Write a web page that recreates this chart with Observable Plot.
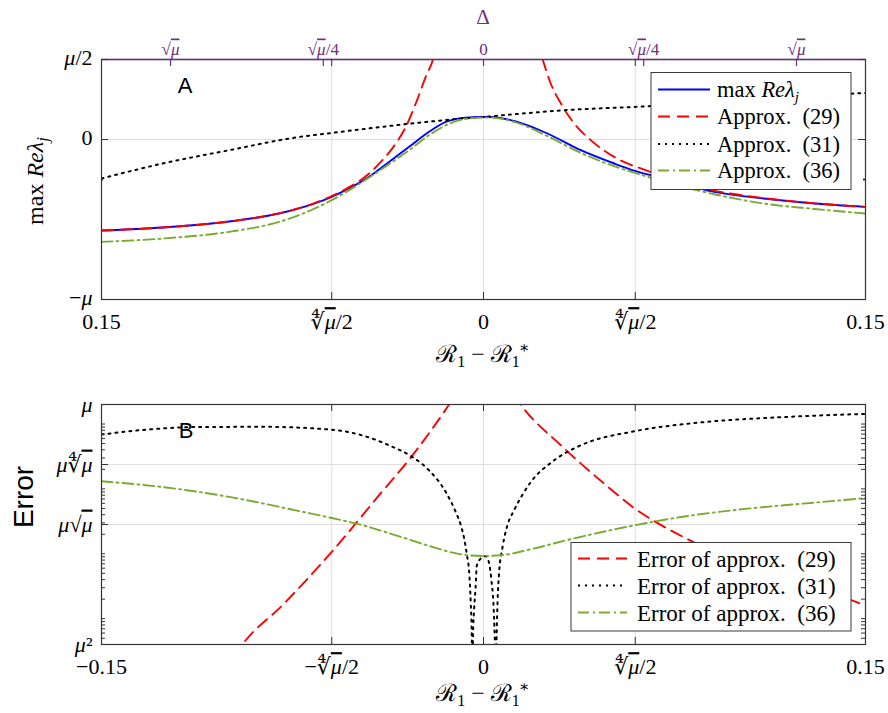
<!DOCTYPE html>
<html><head><meta charset="utf-8">
<script src="https://cdn.jsdelivr.net/npm/d3@7"></script>
<script src="https://cdn.jsdelivr.net/npm/@observablehq/plot@0.6"></script>
<style>
body{margin:0;background:#fff;}
#wrap{position:relative;width:888px;height:713px;overflow:hidden;background:#fff;}
#wrap svg{position:absolute;left:0;}
</style></head><body><div id="wrap"></div>
<script>
const mu = 2e-4;

// ---------- Panel A: max Re(lambda_j) and approximations (values in units of mu) ----------
const blueX = [-0.15,-0.126,-0.0999,-0.0803,-0.0671,-0.0596,-0.0528,-0.0449,-0.0371,-0.0292,-0.0214,-0.0148,-0.0083,0,0.0029,0.012,0.0251,0.0382,0.0513,0.0595,0.067,0.0906,0.110,0.130,0.150];
const blueY = [-0.569,-0.55,-0.5125,-0.4625,-0.404,-0.358,-0.306,-0.233,-0.14,-0.046,0.048,0.11,0.135,0.141,0.141,0.116,0.0375,-0.067,-0.15,-0.196,-0.229,-0.327,-0.369,-0.40,-0.421];
const red29LX = [-0.15,-0.126,-0.0999,-0.0803,-0.0671,-0.0596,-0.0528,-0.0475,-0.0449,-0.0397,-0.0344,-0.0305,-0.0266,-0.0227,-0.0198,-0.018];
const red29LY = [-0.569,-0.55,-0.5125,-0.462,-0.402,-0.354,-0.298,-0.245,-0.2125,-0.129,-0.025,0.079,0.225,0.391,0.502,0.62];
const red29RX = [0.021,0.0232,0.0264,0.0304,0.0356,0.0421,0.0513,0.0644,0.075,0.09,0.11,0.13,0.15];
const red29RY = [0.62,0.502,0.35,0.225,0.10,-0.004,-0.109,-0.196,-0.255,-0.318,-0.366,-0.399,-0.421];
const black31X = [-0.15,-0.126,-0.0999,-0.0737,-0.0596,-0.0344,-0.0083,0,0.012,0.0317,0.0644,0.09,0.12,0.15];
const black31Y = [-0.244,-0.15,-0.067,0.0125,0.041,0.089,0.131,0.141,0.158,0.183,0.208,0.235,0.265,0.291];
const green36X = [-0.15,-0.126,-0.0999,-0.0803,-0.0671,-0.0596,-0.0475,-0.0371,-0.0292,-0.0214,-0.0083,0,0.0029,0.012,0.0251,0.0382,0.0513,0.0595,0.0906,0.110,0.130,0.150];
const green36Y = [-0.64,-0.619,-0.577,-0.515,-0.4375,-0.379,-0.265,-0.154,-0.067,0.027,0.125,0.137,0.137,0.11,0.021,-0.084,-0.167,-0.209,-0.342,-0.40,-0.434,-0.463];

// ---------- Panel B: errors, given as exponent e (error = mu^e) ----------
const err29LX = [-0.098,-0.0946,-0.0789,-0.0596,-0.041,-0.0279,-0.0135,-0.011];
const err29LE = [2.05,1.999,1.836,1.614,1.378,1.212,1.0,0.96];
const err29RX = [0.012,0.0146,0.0304,0.0474,0.0595,0.0722,0.0801,0.10,0.125,0.1462,0.150];
const err29RE = [0.96,1.0,1.170,1.330,1.434,1.517,1.561,1.66,1.755,1.822,1.839];
const err31X = [-0.15,-0.1327,-0.113,-0.0868,-0.0596,-0.0475,-0.0371,-0.0279,-0.0214,-0.0148,-0.0109,-0.0089,-0.0076,-0.0066,-0.0056,-0.005,-0.0046,-0.0044,-0.0041,-0.0037,-0.0031,-0.0026,-0.0011,0,0.0009,0.0022,0.0031,0.0039,0.0044,0.0048,0.0051,0.0055,0.0061,0.0075,0.0094,0.012,0.0186,0.0277,0.0382,0.0595,0.084,0.1167,0.150];
const err31E = [1.125,1.105,1.094,1.093,1.105,1.129,1.170,1.219,1.274,1.365,1.448,1.503,1.558,1.621,1.704,1.829,1.968,2.15,1.953,1.857,1.760,1.669,1.642,1.632,1.632,1.660,1.732,1.829,1.968,2.15,1.99,1.829,1.704,1.593,1.503,1.441,1.323,1.233,1.170,1.111,1.076,1.053,1.039];
const err36X = [-0.15,-0.126,-0.0999,-0.0737,-0.0596,-0.0475,-0.0344,-0.0214,-0.0083,0,0.0068,0.0186,0.0343,0.0595,0.0775,0.1037,0.1298,0.150];
const err36E = [1.320,1.344,1.385,1.441,1.473,1.503,1.545,1.589,1.625,1.631,1.628,1.603,1.561,1.503,1.469,1.434,1.409,1.390];

// ---------- ticks & labels ----------
const xTicks = [-0.15,-0.0596,0,0.0596,0.15];
const xLabelsA = ["0.15","∜μ/2","0","∜μ/2","0.15"];
const xLabelsB = ["−0.15","−∜μ/2","0","∜μ/2","0.15"];
const deltaTicks = [-0.1229,-0.0629,0,0.0629,0.1229];
const deltaLabels = ["√μ","√μ/4","0","√μ/4","√μ"];
const yTicksA = [-1,0,0.5];
const yLabelsA = ["−μ","0","μ/2"];
const yExpB = [1,1.25,1.5,2];
const yLabelsB = ["μ","μ∜μ","μ√μ","μ²"];
const legendA = ["max Reλj","Approx. (29)","Approx. (31)","Approx. (36)"];
const legendB = ["Error of approx. (29)","Error of approx. (31)","Error of approx. (36)"];

// ---------- styles ----------
const SERIF = "'Liberation Serif','DejaVu Serif',serif";
const SANS = "'Liberation Sans',Arial,sans-serif";
const PURPLE = "#6e2e82";
const FRAME = "#333333";
const GRID = "#dedede";
const S = {
  blue: {stroke:"#0000ff", strokeWidth:1.9},
  red: {stroke:"#ff0000", strokeWidth:1.9, strokeDasharray:"12,7"},
  black: {stroke:"#000000", strokeWidth:2, strokeDasharray:"2,5"},
  green: {stroke:"#77ac30", strokeWidth:1.9, strokeDasharray:"11,4,2,4"}
};

const rows = (xs, ys) => xs.map((x,i) => ({x, y: ys[i]}));
const rowsE = (xs, es) => xs.map((x,i) => ({x, y: Math.pow(mu, es[i])}));
const lineOpts = (s) => ({x:"x", y:"y", curve:"monotone-x", clip:true, ...s});

const W = 888, ML = 101, MR = 23;
const FW = W - ML - MR; // 764
const TICKFS = 22;

// ---------- Panel A ----------
const plotA = Plot.plot({
  width: W, height: 370, marginLeft: ML, marginRight: MR, marginTop: 59, marginBottom: 71,
  x: {domain:[-0.15,0.15], axis:null},
  y: {domain:[-1,0.5], axis:null},
  style: {fontFamily: SERIF, background:"transparent", overflow:"visible"},
  marks: [
    Plot.gridX(xTicks.slice(1,4), {stroke:GRID, strokeOpacity:1}),
    Plot.gridY([0], {stroke:GRID, strokeOpacity:1}),
    Plot.line(rows(blueX, blueY), lineOpts(S.blue)),
    Plot.line(rows(red29LX, red29LY), lineOpts(S.red)),
    Plot.line(rows(red29RX, red29RY), lineOpts(S.red)),
    Plot.line(rows(black31X, black31Y), lineOpts(S.black)),
    Plot.line(rows(green36X, green36Y), lineOpts(S.green)),
    Plot.frame({stroke:FRAME, strokeWidth:1.2}),
    Plot.ruleY([0.5], {stroke:PURPLE, strokeWidth:1.4}),
    // inward ticks (MATLAB box style)
    Plot.tickX(xTicks, {x:d=>d, insetTop:233, stroke:FRAME}),
    Plot.tickX(xTicks, {x:d=>d, insetBottom:233, stroke:FRAME}),
    Plot.tickX(deltaTicks, {x:d=>d, insetBottom:233, stroke:PURPLE, strokeWidth:1.2}),
    Plot.tickY(yTicksA, {y:d=>d, insetRight:FW-7, stroke:FRAME}),
    Plot.tickY(yTicksA, {y:d=>d, insetLeft:FW-7, stroke:FRAME}),
    Plot.tickY([-0.25], {y:d=>d, insetRight:FW-2, stroke:FRAME, strokeWidth:2}),
    Plot.tickY([-0.25], {y:d=>d, insetLeft:FW-2, stroke:FRAME, strokeWidth:2}),
    Plot.text(xTicks.map((v,i)=>({v, t:xLabelsA[i]})), {x:"v", text:"t", frameAnchor:"bottom", dy:14, lineAnchor:"top", fontSize:TICKFS}),
    Plot.text(deltaTicks.map((v,i)=>({v, t:deltaLabels[i]})), {x:"v", text:"t", frameAnchor:"top", dy:-5, lineAnchor:"bottom", fontSize:17, fill:PURPLE}),
    Plot.text(yTicksA.map((v,i)=>({v, t:yLabelsA[i]})), {y:"v", text:"t", frameAnchor:"left", dx:-9, dy:-2, textAnchor:"end", fontSize:TICKFS})
  ]
});

// ---------- Panel B ----------
const minorB = [];
for (let p = -8; p <= -4; p++) for (let k = 1; k <= 9; k++) { const v = k*Math.pow(10,p); if (v >= mu*mu && v <= mu) minorB.push(v); }
const yTicksB = yExpB.map(e => Math.pow(mu, e));
const plotB = Plot.plot({
  width: W, height: 343, marginLeft: ML, marginRight: MR, marginTop: 34, marginBottom: 69,
  x: {domain:[-0.15,0.15], axis:null},
  y: {type:"log", domain:[mu*mu, mu], axis:null},
  style: {fontFamily: SERIF, background:"transparent", overflow:"visible"},
  marks: [
    Plot.gridX(xTicks.slice(1,4), {stroke:GRID, strokeOpacity:1}),
    Plot.gridY(yTicksB.slice(1,3), {stroke:GRID, strokeOpacity:1}),
    Plot.line(rowsE(err29LX, err29LE), lineOpts(S.red)),
    Plot.line(rowsE(err29RX, err29RE), lineOpts(S.red)),
    Plot.line(rowsE(err31X, err31E), lineOpts(S.black)),
    Plot.line(rowsE(err36X, err36E), lineOpts(S.green)),
    Plot.frame({stroke:FRAME, strokeWidth:1.2}),
    Plot.tickX(xTicks, {x:d=>d, insetTop:233, stroke:FRAME}),
    Plot.tickX(xTicks, {x:d=>d, insetBottom:233, stroke:FRAME}),
    Plot.tickY(yTicksB, {y:d=>d, insetRight:FW-7, stroke:FRAME}),
    Plot.tickY(yTicksB, {y:d=>d, insetLeft:FW-7, stroke:FRAME}),
    Plot.tickY(minorB, {y:d=>d, insetRight:FW-4, stroke:FRAME}),
    Plot.tickY(minorB, {y:d=>d, insetLeft:FW-4, stroke:FRAME}),
    Plot.text(xTicks.map((v,i)=>({v, t:xLabelsB[i]})), {x:"v", text:"t", frameAnchor:"bottom", dy:14, lineAnchor:"top", fontSize:TICKFS}),
    Plot.text(yTicksB.map((v,i)=>({v, t:yLabelsB[i]})), {y:"v", text:"t", frameAnchor:"left", dx:-9, textAnchor:"end", fontSize:TICKFS})
  ]
});

const wrap = document.getElementById("wrap");
plotA.style.top = "0px"; plotB.style.top = "370px";
wrap.appendChild(plotA); wrap.appendChild(plotB);

// italic mu + radical vinculum in tick labels
function mathify(svg) {
  d3.select(svg).selectAll('text').each(function() {
    if (this.querySelector("tspan")) return;
    const t = this.textContent;
    if (!/[μ√∜]/.test(t)) return;
    const el = d3.select(this); el.text(null);
    for (let i = 0; i < t.length; i++) {
      const c = t[i];
      const ts = el.append("tspan").text(c);
      if (c === "μ") {
        ts.attr("font-style","italic");
        if (i > 0 && (t[i-1] === "√" || t[i-1] === "∜")) ts.style("text-decoration","overline");
      }
    }
  });
}
mathify(plotA); mathify(plotB);

function txt(svg, x, y, opts) {
  return d3.select(svg).append("text").attr("x", x).attr("y", y)
    .attr("font-family", opts.family || SERIF).attr("font-size", opts.size || 21)
    .attr("text-anchor", opts.anchor || "middle").attr("fill", opts.fill || "#000");
}
function xLabel(svg, y) {
  const t = txt(svg, 483, y, {size:24});
  t.append("tspan").text("ℛ");
  t.append("tspan").attr("font-size",16).attr("dy",5).text("1");
  t.append("tspan").attr("dy",-5).text(" − ℛ");
  t.append("tspan").attr("font-size",16).attr("dy",5).text("1");
  t.append("tspan").attr("font-size",16).attr("dy",-14).attr("dx",-1).text("∗");
}

// Panel A decorations
txt(plotA, 483, 24, {size:21, fill:PURPLE}).text("Δ");
xLabel(plotA, 362);
{
  const t = d3.select(plotA).append("text").attr("transform","translate(43,181) rotate(-90)")
    .attr("font-family",SERIF).attr("font-size",24).attr("text-anchor","middle");
  t.append("tspan").text("max ");
  t.append("tspan").attr("font-style","italic").text("Reλ");
  t.append("tspan").attr("font-style","italic").attr("font-size",17).attr("dy",5).text("j");
}
txt(plotA, 185, 93, {family:SANS, size:22}).text("A");

function legend(svg, box, rowYs, lx1, lx2, tx, labels, styles, fs) {
  const g = d3.select(svg).append("g");
  g.append("rect").attr("x",box[0]).attr("y",box[1]).attr("width",box[2]).attr("height",box[3])
    .attr("fill","#fff").attr("stroke","#3a3a3a").attr("stroke-width",1);
  labels.forEach((l, i) => {
    const s = styles[i];
    g.append("line").attr("x1",lx1).attr("x2",lx2).attr("y1",rowYs[i]).attr("y2",rowYs[i])
      .attr("stroke",s.stroke).attr("stroke-width",s.strokeWidth).attr("stroke-dasharray",s.strokeDasharray||null);
    const t = g.append("text").attr("x",tx).attr("y",rowYs[i]).attr("dy","0.35em")
      .attr("text-anchor","start").attr("font-family",SERIF).attr("font-size",fs);
    if (l === "max Reλj") {
      t.append("tspan").text("max ");
      t.append("tspan").attr("font-style","italic").text("Reλ");
      t.append("tspan").attr("font-style","italic").attr("font-size",15).attr("dy",5).text("j");
    } else {
      t.text(l.replace(". (", ".\u2002("));
    }
  });
}
legend(plotA, [651,72.5,200,117], [89.5,116.5,144,170.5], 658, 710, 717, legendA, [S.blue,S.red,S.black,S.green], 22.5);

// Panel B decorations
xLabel(plotB, 331);
{
  d3.select(plotB).append("text").attr("transform","translate(33,127) rotate(-90)")
    .attr("font-family",SANS).attr("font-size",28).attr("text-anchor","middle").text("Error");
}
txt(plotB, 186, 68, {family:SANS, size:22}).text("B");
legend(plotB, [571,172.5,280,88.5], [188.5,215.5,242.5], 578, 627, 637, legendB, [S.red,S.black,S.green], 23);
</script></body></html>
